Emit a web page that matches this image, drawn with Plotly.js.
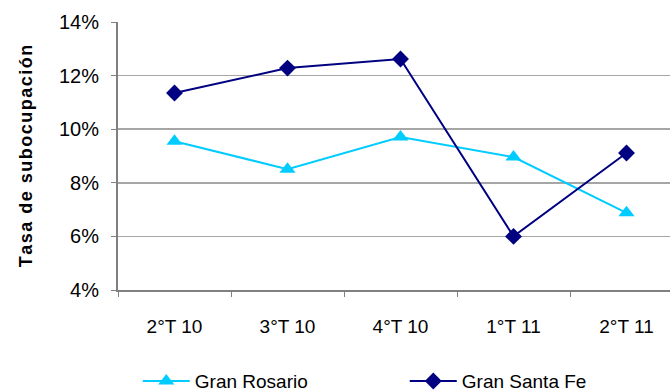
<!DOCTYPE html>
<html><head><meta charset="utf-8">
<script src="https://cdn.plot.ly/plotly-3.0.1.min.js"></script>
<style>html,body{margin:0;padding:0;overflow:hidden;background:#fff;width:670px;height:392px}</style>
</head><body><div id="chart"></div>
<script>
const categories = ["2°T 10", "3°T 10", "4°T 10", "1°T 11", "2°T 11"];
const granRosario = [0.0955, 0.0851, 0.0971, 0.0896, 0.0688];
const granSantaFe = [0.1135, 0.1228, 0.1262, 0.0600, 0.0911];
const yTickVals = [0.04, 0.06, 0.08, 0.10, 0.12, 0.14];
const yTickText = ["4%", "6%", "8%", "10%", "12%", "14%"];
const yTitle = "Tasa de subocupación";

const font = "Liberation Sans, Arial, sans-serif";
const spaced = yTitle.split("").join("\u200A");
const traces = [
  {x: categories, y: granRosario, name: "Gran Rosario", mode: "lines+markers",
   line: {color: "#00CCFF", width: 2},
   marker: {symbol: "triangle-up", size: 14, color: "#00CCFF"}},
  {x: categories, y: granSantaFe, name: "Gran Santa Fe", mode: "lines+markers",
   line: {color: "#000080", width: 2},
   marker: {symbol: "diamond", size: 13, color: "#000080"}}
];
const layout = {
  width: 700, height: 392,
  margin: {l: 118, r: 17, t: 22, b: 102, autoexpand: false},
  paper_bgcolor: "#fff", plot_bgcolor: "#fff",
  font: {family: font, size: 19, color: "#000"},
  showlegend: true,
  legend: {orientation: "h", x: 0.035, xanchor: "left", y: -0.34, yanchor: "middle",
           itemwidth: 47, entrywidth: 205, entrywidthmode: "pixels", font: {size: 19}},
  xaxis: {type: "category", tickson: "boundaries", ticks: "outside", ticklen: 5,
          tickcolor: "#808080", showline: true, linecolor: "#808080", linewidth: 2,
          showgrid: false, tickfont: {size: 19}, range: [-0.5, 4.5], ticklabelstandoff: 18},
  yaxis: {range: [0.04, 0.14], tickvals: yTickVals, ticktext: yTickText,
          ticks: "outside", ticklen: 5, tickcolor: "#808080",
          showline: true, linecolor: "#808080", linewidth: 2,
          showgrid: true, gridcolor: "#a6a6a6", gridwidth: 1.5, zeroline: false,
          tickfont: {size: 20}, ticklabelstandoff: 8,
          title: {text: "<b>" + spaced + "</b>", font: {size: 18}, standoff: 22}}
};
Plotly.newPlot("chart", traces, layout, {displayModeBar: false, staticPlot: true});
</script></body></html>
